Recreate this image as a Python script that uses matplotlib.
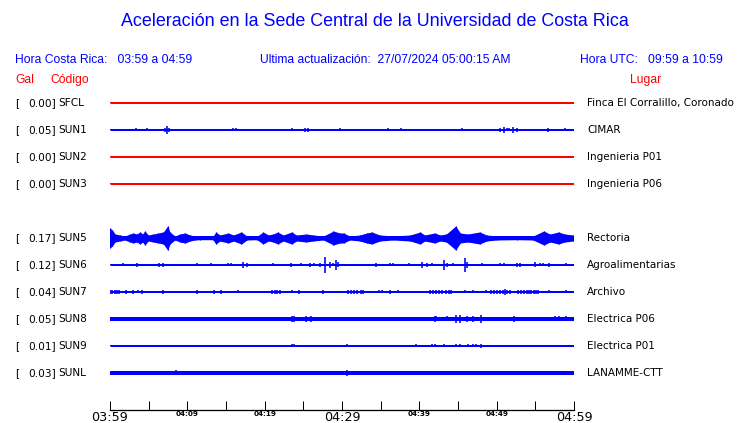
import matplotlib
matplotlib.use("Agg")
import matplotlib.pyplot as plt

W, H = 740, 423

TITLE = "Aceleración en la Sede Central de la Universidad de Costa Rica"
HORA_CR = "Hora Costa Rica:   03:59 a 04:59"
ULTIMA = "Ultima actualización:  27/07/2024 05:00:15 AM"
HORA_UTC = "Hora UTC:   09:59 a 10:59"

# station rows (row 4 is empty in the reference)
codes = ["SFCL", "SUN1", "SUN2", "SUN3", "SUN5", "SUN6", "SUN7", "SUN8", "SUN9", "SUNL"]
rows = [0, 1, 2, 3, 5, 6, 7, 8, 9, 10]
gal = [0.00, 0.05, 0.00, 0.00, 0.17, 0.12, 0.04, 0.05, 0.01, 0.03]
places = ["Finca El Corralillo, Coronado", "CIMAR", "Ingenieria P01", "Ingenieria P06",
          "Rectoria", "Agroalimentarias", "Archivo", "Electrica P06", "Electrica P01",
          "LANAMME-CTT"]
colors = ["red", "blue", "red", "red", "blue", "blue", "blue", "blue", "blue", "blue"]
# resting trace half-thickness (px)
base_half = [0.5, 0.5, 0.5, 0.5, 1.7, 0.5, 0.5, 1.7, 0.5, 1.7]

# time axis (minutes after 03:59)
tick_min = list(range(0, 61, 5))
big_labels = {0: "03:59", 30: "04:29", 60: "04:59"}
small_labels = {10: "04:09", 20: "04:19", 40: "04:39", 50: "04:49"}

# SUN5 envelope: minute, half amplitude (px)
sun5_t = [0.0, 0.3, 0.65, 1.3, 1.9, 2.6, 3.0, 3.45, 3.9, 4.2, 4.5, 4.95, 5.6, 6.25, 6.9,
          7.45, 7.75, 8.4, 9.05, 9.7, 10.35, 11.0, 11.6, 13.3, 13.7, 14.2, 15.3, 15.95,
          17.0, 17.7, 19.0, 19.8, 20.5, 21.1, 21.7, 22.4, 23.5, 24.1, 25.4, 26.3, 27.6,
          28.9, 29.7, 30.2, 31.0, 32.3, 33.2, 33.85, 34.9, 36.6, 38.8, 40.1, 40.7, 42.0,
          42.7, 43.5, 44.7, 45.3, 46.3, 47.8, 48.7, 50.0, 52.6, 54.7, 56.1, 56.9, 58.0,
          58.8, 59.9]
sun5_a = [10, 8, 4, 3, 2, 4, 5, 4, 6, 4, 7, 3, 4, 5, 6,
          12, 6, 2, 4, 5, 3, 2, 1.7, 1.7, 6, 3, 5, 3,
          6, 2, 1.7, 6, 3, 4, 6, 3, 6, 3, 4, 3, 2,
          7, 5, 5, 2, 3, 5, 6, 3, 2, 3, 6, 3, 5,
          3, 4, 12, 5, 4, 6, 3, 2, 1.7, 2, 7, 4, 6,
          4, 3]

# spikes on the other traces: minute, half amplitude (px)
sun1_t = [3.3, 4.3, 4.8, 7.1, 7.4, 7.6, 12.6, 15.95, 16.3, 23.5, 25.2, 25.6, 28.7, 29.7,
          35.9, 37.6, 44.8, 45.5, 48.6, 50.4, 50.9, 51.3, 51.6, 52.1, 52.6, 54.96, 56.6,
          58.1, 58.8]
sun1_a = [1.5, 1, 1.5, 2, 4, 2, 1, 1.5, 1.5, 1.5, 2, 2, 1, 1.5,
          1.5, 1.5, 1, 1.5, 1, 2, 3, 1.5, 1.5, 3, 2, 1, 2, 1, 1.5]

sun6_t = [1.7, 3.2, 3.45, 6.3, 6.8, 11.3, 13.0, 15.2, 15.7, 17.2, 17.7, 18.3, 21.1, 23.4,
          24.7, 25.8, 26.4, 27.2, 27.8, 28.4, 28.9, 29.2, 29.5, 30.1, 32.2, 33.2, 34.4,
          36.2, 36.6, 38.6, 40.3, 40.95, 41.6, 42.2, 43.2, 43.6, 44.4, 45.9, 46.2, 48.1,
          49.7, 50.4, 50.9, 52.6, 53.0, 53.6, 55.0, 55.6, 56.0, 56.8, 59.0, 59.5]
sun6_a = [1.5, 1, 2, 2, 2, 1.5, 1.5, 1.5, 1.5, 3, 2, 1, 1.5, 2,
          1.5, 2, 1.5, 2, 8, 3, 1.5, 5, 2.5, 1, 1, 1, 2,
          1.5, 1.5, 1.5, 3, 2, 1.5, 1, 5, 2, 1.5, 7, 3, 1.5,
          1, 1.5, 1.5, 2, 2, 1, 2.5, 1.5, 1.5, 2, 1.5, 1]

sun7_t = [0.0, 0.3, 0.6, 0.9, 1.1, 1.5, 2.1, 2.5, 3.0, 3.6, 4.2, 6.3, 6.8, 7.7, 11.2,
          13.5, 14.4, 16.6, 21.0, 21.3, 21.6, 22.0, 23.5, 24.4, 26.9, 27.5, 30.8, 31.2,
          31.6, 32.0, 32.4, 32.7, 33.6, 34.8, 35.2, 36.2, 37.3, 38.5, 39.8, 40.7, 41.4,
          41.8, 42.2, 42.6, 42.9, 43.5, 43.8, 44.1, 45.9, 47.0, 48.6, 49.3, 49.7, 50.0,
          50.4, 50.8, 51.1, 51.4, 51.7, 52.7, 53.1, 53.5, 53.9, 54.2, 54.4, 54.8, 55.1,
          55.4, 56.8, 58.1, 59.0]
sun7_a = [2, 2, 2, 2, 2, 1, 2, 1, 2, 1.5, 2, 1, 2, 1, 2,
          2, 2, 1.5, 2, 2, 2, 2, 1.5, 2, 1, 2, 2, 2,
          2, 2, 2, 2, 1, 1.5, 1.5, 2, 1.5, 1, 1, 1, 2,
          2, 2, 2, 2, 2, 2, 2, 1.5, 1.5, 1.5, 2, 2, 2,
          2, 2, 3, 2, 2, 2, 2, 2, 2, 2, 2, 2, 2,
          2, 1.5, 1, 1.5]

sun8_t = [23.5, 23.8, 25.4, 26.0, 42.0, 42.2, 43.6, 44.7, 45.3, 46.2, 46.9, 48.0, 52.2,
          57.6, 58.1, 59.0]
sun8_a = [3, 3, 3, 3, 3, 2.5, 2.5, 4, 4, 3, 3, 4, 3, 2.5, 2.5, 2.5]

sun9_t = [23.5, 23.8, 30.7, 39.6, 41.6, 42.0, 43.2, 43.4, 44.7, 45.3, 46.3, 46.9, 47.3,
          48.0, 56.3, 58.4]
sun9_a = [1.5, 1.5, 1.5, 1.5, 1.5, 1.5, 1.5, 1, 1.5, 1.5, 1.5, 1.5, 1.5, 2, 1, 1]

sunl_t = [8.5, 30.7, 35.7]
sunl_a = [2.5, 3, 2]

spikes = {
    "SUN1": (sun1_t, sun1_a),
    "SUN6": (sun6_t, sun6_a),
    "SUN7": (sun7_t, sun7_a),
    "SUN8": (sun8_t, sun8_a),
    "SUN9": (sun9_t, sun9_a),
    "SUNL": (sunl_t, sunl_a),
}

PX = 72 / 100  # points per pixel


def fx(x):
    return x / W


def fy(y):
    return 1 - y / H


fig = plt.figure(figsize=(W / 100, H / 100), dpi=100)
fig.patch.set_facecolor("white")

sans = ["Liberation Sans", "DejaVu Sans"]
fig.text(fx(375), fy(22), TITLE, color="blue", fontsize=12.9, family=sans,
         ha="center", va="center")
fig.text(fx(15), fy(60), HORA_CR, color="blue", fontsize=8.7, family=sans, va="center")
fig.text(fx(260), fy(60), ULTIMA, color="blue", fontsize=8.7, family=sans, va="center")
fig.text(fx(580), fy(60), HORA_UTC, color="blue", fontsize=8.7, family=sans, va="center")
fig.text(fx(15), fy(80), "Gal", color="red", fontsize=8.7, family=sans, va="center")
fig.text(fx(50), fy(80), "Código", color="red", fontsize=8.7, family=sans, va="center")
fig.text(fx(630), fy(80), "Lugar", color="red", fontsize=8.7, family=sans, va="center")

# trace area, y in pixels
x0, x1 = 110, 574
ytop, ybot = 90, 390
ax = fig.add_axes([fx(x0), fy(ybot), (x1 - x0) / W, (ybot - ytop) / H])
ax.set_xlim(0, 60)
ax.set_ylim(ybot, ytop)
ax.axis("off")

for code, row, g, place, col, bh in zip(codes, rows, gal, places, colors, base_half):
    yc = 103 + 27 * row
    ax.fill_between([0, 60], yc - bh, yc + bh, color=col, lw=0, antialiased=False)
    ax.hlines(yc, 0, 60, color=col, lw=1 * PX)
    if code == "SUN5":
        lo = [yc - a for a in sun5_a]
        hi = [yc + a for a in sun5_a]
        ax.fill_between(sun5_t, lo, hi, color=col, lw=0)
        ax.vlines(sun5_t, lo, hi, color=col, lw=1.2 * PX)
    elif code in spikes:
        ts, amps = spikes[code]
        ax.vlines(ts, [yc - a for a in amps], [yc + a for a in amps], color=col, lw=1.6 * PX)

    fig.text(fx(15), fy(yc), "[", fontsize=7.6, va="center", color="black")
    fig.text(fx(56), fy(yc), f"{g:.2f}]", fontsize=7.6, va="center", ha="right", color="black")
    fig.text(fx(58), fy(yc), code, fontsize=7.6, va="center", color="black")
    fig.text(fx(587), fy(yc), place, fontsize=7.45, va="center", color="black")

# time axis
tax = fig.add_axes([fx(x0), fy(409.5), (x1 - x0) / W, 10 / H])
tax.set_xlim(0, 60)
tax.set_ylim(0, 1)
for s in ["top", "left", "right"]:
    tax.spines[s].set_visible(False)
tax.spines["bottom"].set_linewidth(1.3 * PX)
tax.set_yticks([])
tax.set_xticks(tick_min)
labels = [big_labels.get(m, small_labels.get(m, "")) for m in tick_min]
tax.set_xticklabels(labels)
tax.tick_params(axis="x", direction="in", length=8.7 * PX, width=1 * PX, pad=1, colors="black")
for m, lab in zip(tick_min, tax.get_xticklabels()):
    if m in big_labels:
        lab.set_fontsize(9.2)
    else:
        lab.set_fontsize(5.2)
        lab.set_fontweight("bold")
tax.patch.set_alpha(0)

fig.savefig("out.png", dpi=100)
